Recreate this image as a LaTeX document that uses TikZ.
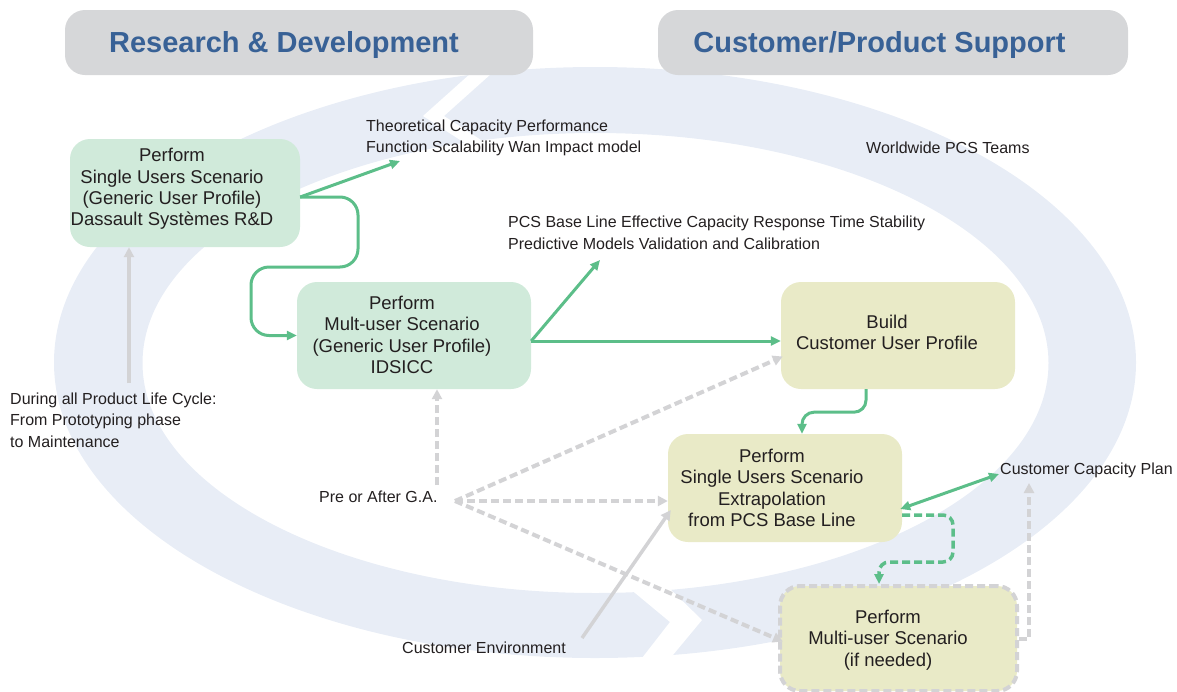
\documentclass[tikz,border=0pt]{standalone}
\usepackage{fontspec}
\setmainfont{Liberation Sans}
\usetikzlibrary{arrows.meta,calc}
\definecolor{ringc}{RGB}{232,237,246}
\definecolor{hdrgray}{RGB}{214,215,217}
\definecolor{hdrblue}{RGB}{56,97,150}
\definecolor{boxgreen}{RGB}{208,234,218}
\definecolor{boxyellow}{RGB}{233,234,199}
\definecolor{lgreen}{RGB}{92,190,137}
\definecolor{lgray}{RGB}{211,211,213}
\definecolor{txtc}{RGB}{35,31,32}
\begin{document}
\begin{tikzpicture}[x=1pt,y=-1pt,
  hdrbox/.style={fill=hdrgray, rounded corners=20pt, minimum height=65pt, inner sep=0pt},
  hdrtxt/.style={text=hdrblue, font=\fontsize{29}{34}\selectfont\bfseries, inner sep=0pt},
  gbox/.style={fill=boxgreen, rounded corners=20pt, inner sep=0pt, minimum width=234pt, minimum height=107pt},
  ybox/.style={fill=boxyellow, rounded corners=20pt, inner sep=0pt, minimum width=234pt, minimum height=107pt},
  boxtxt/.style={align=center, text=txtc, font=\fontsize{18.5}{21.3}\selectfont, inner sep=0pt},
  lbl/.style={align=left, anchor=west, text=txtc, font=\fontsize{16}{21.5}\selectfont, inner sep=0pt},
  garrow/.style={draw=lgreen, line width=3pt, -{Triangle[length=10pt,width=9pt]}},
  gboth/.style={draw=lgreen, line width=3pt, {Triangle[length=10pt,width=9pt]}-{Triangle[length=10pt,width=9pt]}},
  gdash/.style={draw=lgreen, line width=3.5pt, dash pattern=on 8pt off 4pt, -{Triangle[length=10pt,width=9pt]}},
  grdash/.style={draw=lgray, line width=4pt, dash pattern=on 8pt off 4pt, -{Triangle[length=10pt,width=10pt]}},
  grsolid/.style={draw=lgray, line width=3.5pt, -{Triangle[length=10pt,width=10pt]}}
]
\useasboundingbox (0,0) rectangle (1177,691);
% background cycle ring
\fill[ringc, even odd rule] (595,362.5) ellipse [x radius=541, y radius=295.5] (595.5,363) ellipse [x radius=453, y radius=230];
\fill[white] (480,65) -- (423,116) -- (491,160) -- (512,160) -- (444,116) -- (501,65) -- cycle;
\fill[white] (623,583) -- (670,622) -- (635,667) -- (663,667) -- (702,620) -- (664,583) -- cycle;
% headers
\node[hdrbox, minimum width=468pt] (H1) at (299,42.5) {};
\node[hdrtxt] (H1t) at (284,45) {Research \& Development};
\node[hdrbox, minimum width=470pt] (H2) at (893,42.5) {};
\node[hdrtxt] (H2t) at (879.5,45) {Customer/Product Support};
% boxes
\node[gbox, minimum width=230pt, minimum height=108pt] (A) at (185,193) {};
\node[gbox] (B) at (414,335.5) {};
\node[ybox] (C) at (898,335.5) {};
\node[ybox, minimum height=108pt] (D) at (785,488) {};
\node[ybox, draw=lgray, line width=4pt, dash pattern=on 8pt off 4pt, minimum width=237pt, minimum height=105pt] (E) at (898.5,638.5) {};
% named free ends
\coordinate (aout) at ($(A.east)+(0,4)$);
\coordinate (t1tip) at (400,161);
\coordinate (bout) at ($(B.east)+(0,5.5)$);
\coordinate (t2tip) at (600,260);
\coordinate (t7tip) at (999,474);
\coordinate (t7up) at (1029,483);
\coordinate (gatop) at (437,485);
\coordinate (ga) at (455,501);
\coordinate (ceout) at (582,638);
\coordinate (lcout) at (129,383);
% green connectors
\draw[garrow] (aout) -- (t1tip);
\draw[garrow, rounded corners=18pt] (aout) -- (358,197) -- (358,267) -- (251,267) -- (251,335.5) -- (B.west);
\draw[garrow] (bout) -- (t2tip);
\draw[garrow] (bout) -- ($(C.west)+(0,5.5)$);
\draw[garrow, rounded corners=12pt] ($(C.south)+(-32,0)$) -- ++(0,23) -| ($(D.north)+(17,0)$);
\draw[gboth] ($(D.east)+(-2,21)$) -- (t7tip);
\draw[gdash, rounded corners=10pt] ($(D.east)+(0,27)$) -- (953,515) -- (953,562) -- (879,562) -- ($(E.north)+(-19.5,0)$);
% gray connectors
\draw[grdash] (E.east) -- (1029,638.5) -- (t7up);
\draw[grdash] (gatop) -- ($(B.south)+(23,0)$);
\draw[grdash] (ga) -- ($(C.west)+(2,21)$);
\draw[grdash] (ga) -- ($(D.west)+(0,13)$);
\draw[grdash] (ga) -- ($(E.west)+(5,3)$);
\draw[grsolid] (ceout) -- ($(D.west)+(3,22)$);
\draw[grsolid] (lcout) -- ($(A.south)+(-56,0)$);
% box texts
\node[boxtxt] (At) at (172,189) {Perform\\Single Users Scenario\\(Generic User Profile)\\Dassault Systèmes R\&D};
\node[boxtxt] (Bt) at (402,335) {Perform\\Mult-user Scenario\\(Generic User Profile)\\IDSICC};
\node[boxtxt] (Ct) at (887,332.5) {Build\\Customer User Profile};
\node[boxtxt] (Dt) at (772,488) {Perform\\Single Users Scenario\\Extrapolation\\from PCS Base Line};
\node[boxtxt] (Et) at (888,640) {Perform\\Multi-user Scenario\\(if needed)};
% labels
\node[lbl] (T1) at (366,138) {Theoretical Capacity Performance\\Function Scalability Wan Impact model};
\node[lbl] (T2) at (508,233) {PCS Base Line Effective Capacity Response Time Stability\\Predictive Models Validation and Calibration};
\node[lbl] (T3) at (866,148) {Worldwide PCS Teams};
\node[lbl] (T4) at (10,420) {During all Product Life Cycle:\\From Prototyping phase\\to Maintenance};
\node[lbl] (T5) at (319,497) {Pre or After G.A.};
\node[lbl] (T6) at (402,648) {Customer Environment};
\node[lbl] (T7) at (1000,470) {Customer Capacity Plan};
\end{tikzpicture}
\end{document}
